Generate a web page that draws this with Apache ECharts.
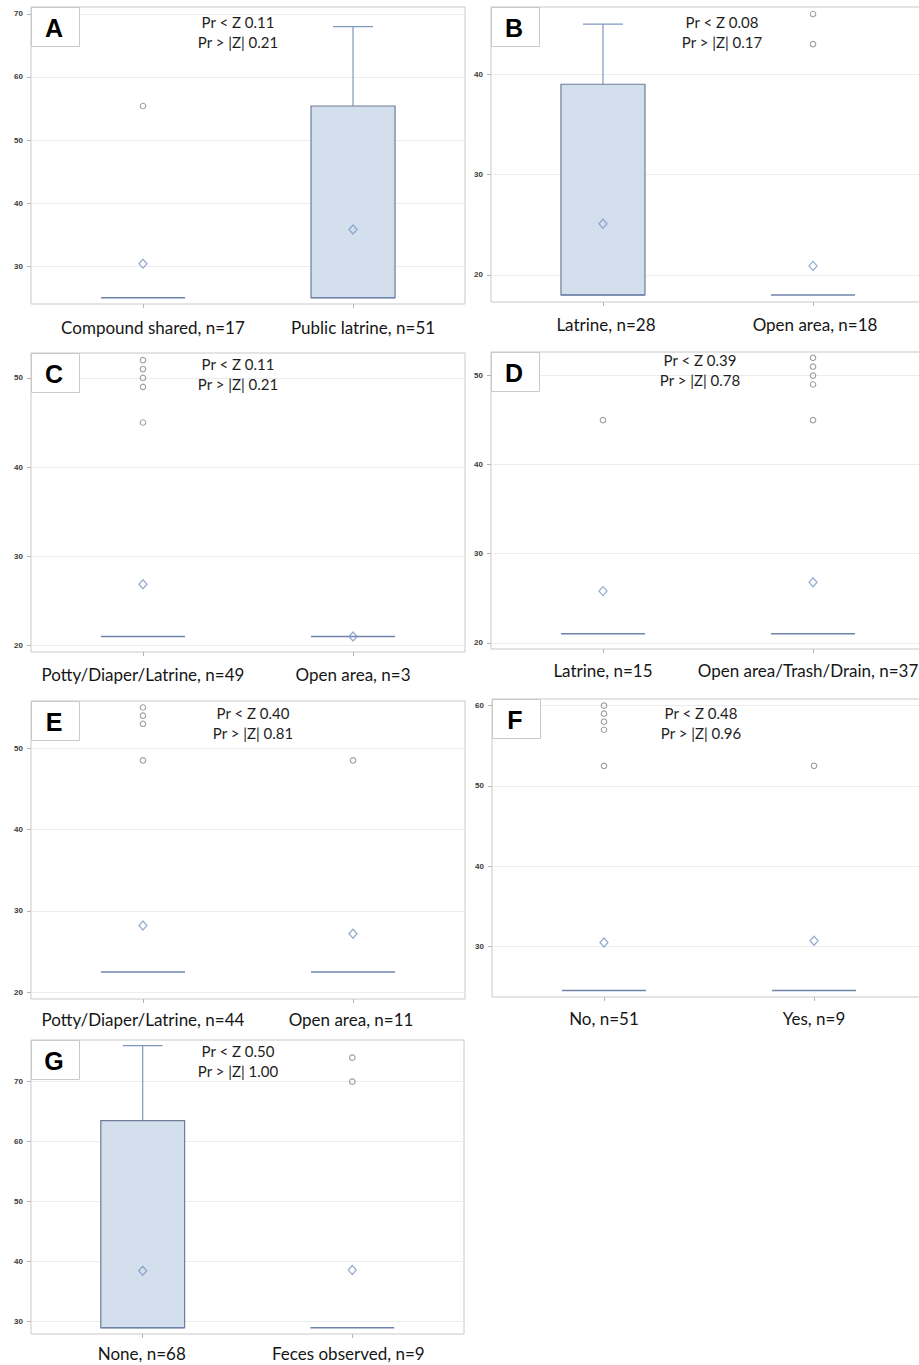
<!DOCTYPE html>
<html>
<head>
<meta charset="utf-8">
<script src="https://cdn.jsdelivr.net/npm/echarts@6/dist/echarts.min.js"></script>
<style>
html,body{margin:0;padding:0;background:#fff;overflow:hidden;}
#chart{width:932px;height:1365px;}
</style>
</head>
<body>
<div id="chart"></div>
<script>
// ---------- data (box = [min, Q1, median, Q3, max]) ----------
const panelLetters = ['A','B','C','D','E','F','G'];

const catsA = ['Compound shared, n=17', 'Public latrine, n=51'];
const boxA = [[25,25,25,25,25],[25,25,25,55.4,68]];
const meanA = [30.4, 35.8];
const outA = [[55.4],[]];
const ticksA = [30,40,50,60,70];
const statsA = ['Pr < Z 0.11', 'Pr > |Z| 0.21'];

const catsB = ['Latrine, n=28', 'Open area, n=18'];
const boxB = [[18,18,18,39,45],[18,18,18,18,18]];
const meanB = [25.1, 20.9];
const outB = [[],[43,46]];
const ticksB = [20,30,40];
const statsB = ['Pr < Z 0.08', 'Pr > |Z| 0.17'];

const catsC = ['Potty/Diaper/Latrine, n=49', 'Open area, n=3'];
const boxC = [[21,21,21,21,21],[21,21,21,21,21]];
const meanC = [26.85, 21];
const outC = [[45,49,50,51,52],[]];
const ticksC = [20,30,40,50];
const statsC = ['Pr < Z 0.11', 'Pr > |Z| 0.21'];

const catsD = ['Latrine, n=15', 'Open area/Trash/Drain, n=37'];
const boxD = [[21,21,21,21,21],[21,21,21,21,21]];
const meanD = [25.8, 26.8];
const outD = [[45],[45,49,50,51,52]];
const ticksD = [20,30,40,50];
const statsD = ['Pr < Z 0.39', 'Pr > |Z| 0.78'];

const catsE = ['Potty/Diaper/Latrine, n=44', 'Open area, n=11'];
const boxE = [[22.5,22.5,22.5,22.5,22.5],[22.5,22.5,22.5,22.5,22.5]];
const meanE = [28.2, 27.2];
const outE = [[48.5,53,54,55],[48.5]];
const ticksE = [20,30,40,50];
const statsE = ['Pr < Z 0.40', 'Pr > |Z| 0.81'];

const catsF = ['No, n=51', 'Yes, n=9'];
const boxF = [[24.5,24.5,24.5,24.5,24.5],[24.5,24.5,24.5,24.5,24.5]];
const meanF = [30.5, 30.7];
const outF = [[52.5,57,58,59,60],[52.5]];
const ticksF = [30,40,50,60];
const statsF = ['Pr < Z 0.48', 'Pr > |Z| 0.96'];

const catsG = ['None, n=68', 'Feces observed, n=9'];
const boxG = [[29,29,29,63.5,76],[29,29,29,29,29]];
const meanG = [38.5, 38.6];
const outG = [[],[70,74]];
const ticksG = [30,40,50,60,70];
const statsG = ['Pr < Z 0.50', 'Pr > |Z| 1.00'];

// ---------- layout ----------
// shift: horizontal offset (px) of each category label from its tick; lm: label margin
const panels = [
  {cats:catsA, box:boxA, mean:meanA, out:outA, ticks:ticksA, stats:statsA, grid:{left:31,top:7,width:434,height:297}, y:[24.0,71.1], sx:207, sy:18, shift:[10,10], lm:15},
  {cats:catsB, box:boxB, mean:meanB, out:outB, ticks:ticksB, stats:statsB, grid:{left:491,top:7,width:434,height:295}, y:[17.3,46.7], sx:231, sy:18, shift:[3,2], lm:14},
  {cats:catsC, box:boxC, mean:meanC, out:outC, ticks:ticksC, stats:statsC, grid:{left:31,top:353,width:434,height:299}, y:[19.25,52.8], sx:207, sy:14, shift:[0,0], lm:13.5},
  {cats:catsD, box:boxD, mean:meanD, out:outD, ticks:ticksD, stats:statsD, grid:{left:491,top:352,width:434,height:297}, y:[19.3,52.65], sx:209, sy:11, shift:[0,-5], lm:12.5},
  {cats:catsE, box:boxE, mean:meanE, out:outE, ticks:ticksE, stats:statsE, grid:{left:31,top:701,width:434,height:298}, y:[19.18,55.8], sx:222, sy:15, shift:[0,-2], lm:12},
  {cats:catsF, box:boxF, mean:meanF, out:outF, ticks:ticksF, stats:statsF, grid:{left:492,top:699,width:434,height:298}, y:[23.7,60.83], sx:209, sy:17, shift:[0,0], lm:12.5},
  {cats:catsG, box:boxG, mean:meanG, out:outG, ticks:ticksG, stats:statsG, grid:{left:31,top:1040,width:433,height:294}, y:[27.95,76.95], sx:207, sy:14, shift:[-1,-4], lm:10.5}
];

const FONT = 'Lato, "Open Sans", sans-serif';

function renderBox(params, api) {
  const x = api.value(0);
  const mn = api.value(1), q1 = api.value(2), md = api.value(3), q3 = api.value(4), mx = api.value(5);
  const w = api.size([0.4, 0])[0];
  const cw = api.size([0.19, 0])[0];
  const pQ1 = api.coord([x, q1]);
  const pQ3 = api.coord([x, q3]);
  const pMd = api.coord([x, md]);
  const pMin = api.coord([x, mn]);
  const pMax = api.coord([x, mx]);
  const cx = pQ1[0];
  const children = [];
  const whisk = {stroke:'#7f97bf', lineWidth:1.2};
  if (mx > q3) {
    children.push({type:'line', shape:{x1:cx,y1:pQ3[1],x2:cx,y2:pMax[1]}, style:whisk});
    children.push({type:'line', shape:{x1:cx-cw/2,y1:pMax[1],x2:cx+cw/2,y2:pMax[1]}, style:whisk});
  }
  if (mn < q1) {
    children.push({type:'line', shape:{x1:cx,y1:pQ1[1],x2:cx,y2:pMin[1]}, style:whisk});
    children.push({type:'line', shape:{x1:cx-cw/2,y1:pMin[1],x2:cx+cw/2,y2:pMin[1]}, style:whisk});
  }
  if (q3 > q1) {
    children.push({type:'rect', shape:{x:cx-w/2, y:pQ3[1], width:w, height:pQ1[1]-pQ3[1]},
      style:{fill:'#d4dfee', stroke:'#6d7c99', lineWidth:1.2}});
  }
  children.push({type:'line', shape:{x1:cx-w/2,y1:pMd[1],x2:cx+w/2,y2:pMd[1]},
    style:{stroke:'#6f84ad', lineWidth:1.5}});
  return {type:'group', children};
}

function shiftStyle(s) {
  const pad = s >= 0 ? [0, 0, 0, 2*s] : [0, -2*s, 0, 0];
  return {fontSize:17, color:'#161616', fontFamily:FONT, padding:pad};
}

const grids = [], xAxes = [], yAxes = [], series = [], graphics = [];
panels.forEach((p, i) => {
  grids.push(Object.assign({show:true, borderColor:'#c9c9c9', borderWidth:1, backgroundColor:'#fff', containLabel:false}, p.grid));
  xAxes.push({
    type:'value', gridIndex:i, min:0.467, max:2.533,
    axisLine:{show:false}, splitLine:{show:false},
    axisTick:{show:true, length:4, lineStyle:{color:'#b5b5b5'}, customValues:[1,2]},
    axisLabel:{show:true, customValues:[1,2], margin:p.lm, fontSize:17, color:'#161616', fontFamily:FONT,
      rich:{c0:shiftStyle(p.shift[0]), c1:shiftStyle(p.shift[1])},
      formatter:(v) => { const k = Math.round(v)-1; return '{c' + k + '|' + p.cats[k] + '}'; }}
  });
  yAxes.push({
    type:'value', gridIndex:i, min:p.y[0], max:p.y[1],
    axisLine:{show:false},
    axisTick:{show:true, length:4, lineStyle:{color:'#b5b5b5'}, customValues:p.ticks},
    axisLabel:{show:true, customValues:p.ticks, margin:8, fontSize:8, fontWeight:'bold', color:'#3a3a3a', fontFamily:'"Liberation Sans", Arial, sans-serif'},
    splitLine:{show:true, lineStyle:{color:'#ececec', width:1}}
  });
  series.push({
    type:'custom', xAxisIndex:i, yAxisIndex:i, renderItem:renderBox, z:2,
    encode:{x:0, y:[1,2,3,4,5]},
    data:p.box.map((b, k) => [k+1].concat(b))
  });
  series.push({
    type:'scatter', xAxisIndex:i, yAxisIndex:i, symbol:'diamond', symbolSize:[8,9], z:4,
    itemStyle:{color:'rgba(0,0,0,0)', borderColor:'#7b97c3', borderWidth:1.3},
    data:p.mean.map((m, k) => [k+1, m])
  });
  const outs = [];
  p.out.forEach((arr, k) => arr.forEach(v => outs.push([k+1, v])));
  series.push({
    type:'scatter', xAxisIndex:i, yAxisIndex:i, symbol:'circle', symbolSize:5.5, z:4,
    itemStyle:{color:'rgba(0,0,0,0)', borderColor:'#858585', borderWidth:1.1},
    data:outs
  });
  // panel letter box
  graphics.push({type:'rect', left:p.grid.left, top:p.grid.top, z:50,
    shape:{width:48, height:39}, style:{fill:'#fff', stroke:'#c9c9c9', lineWidth:1}});
  graphics.push({type:'text', x:p.grid.left+23, y:p.grid.top+21, z:51,
    style:{text:panelLetters[i], font:'bold 25px "Liberation Sans", Arial, sans-serif', fill:'#000', align:'center', verticalAlign:'middle'}});
  // stats text
  graphics.push({type:'text', x:p.grid.left+p.sx, y:p.grid.top+p.sy-3, z:51,
    style:{text:p.stats[0], font:'15px ' + FONT, fill:'#1e1e1e', align:'center', verticalAlign:'middle'}});
  graphics.push({type:'text', x:p.grid.left+p.sx, y:p.grid.top+p.sy+17, z:51,
    style:{text:p.stats[1], font:'15px ' + FONT, fill:'#1e1e1e', align:'center', verticalAlign:'middle'}});
});

const chart = echarts.init(document.getElementById('chart'), null, {renderer:'svg'});
chart.setOption({
  animation:false,
  backgroundColor:'#fff',
  grid:grids, xAxis:xAxes, yAxis:yAxes, series:series, graphic:graphics
});
</script>
</body>
</html>
